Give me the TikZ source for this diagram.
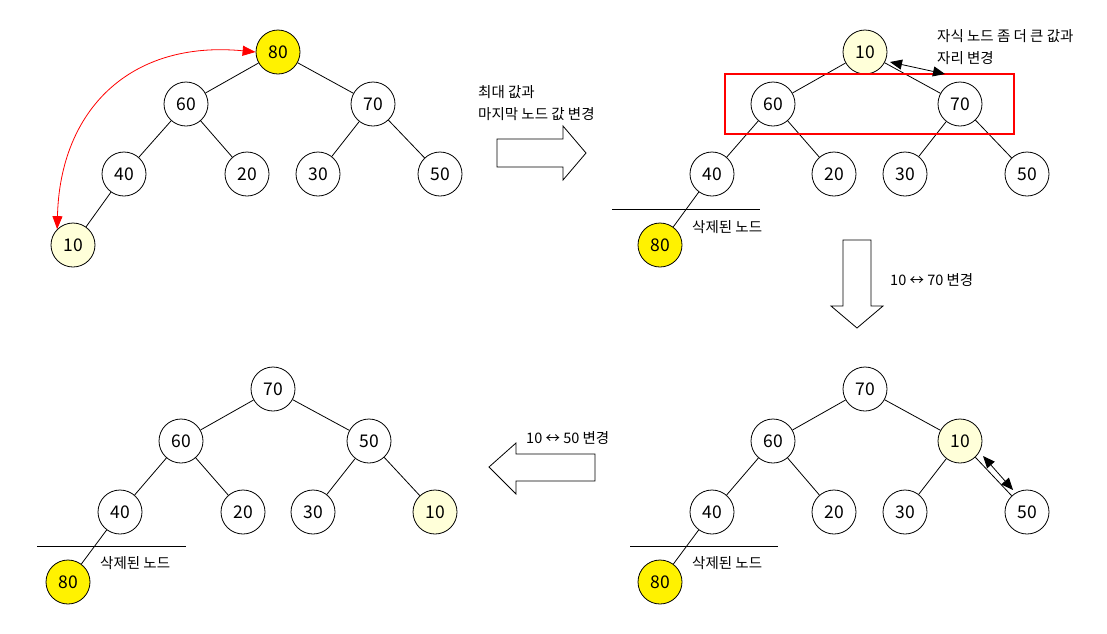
\documentclass[tikz,border=0pt]{standalone}
\usepackage{fontspec}
\setmainfont{Noto Sans CJK KR}
\usetikzlibrary{arrows.meta,shapes.arrows}
\definecolor{ly}{HTML}{FFFFD9}
\tikzset{
  hn/.style={circle,draw,line width=0.8pt,minimum size=44pt,inner sep=0pt,fill=white,font=\fontsize{17.5}{19}\selectfont},
  yel/.style={fill=yellow},
  lyel/.style={fill=ly},
  ed/.style={line width=0.8pt},
  lbl/.style={anchor=west,font=\fontsize{14.5}{17}\selectfont,inner sep=0pt},
  dbl/.style={line width=0.8pt,{Triangle[width=10pt,length=12pt]}-{Triangle[width=10pt,length=12pt]}},
  bigarrow/.style={draw,line width=0.8pt,fill=white}
}
\begin{document}
\begin{tikzpicture}[x={(1pt,0)},y={(0,-1pt)}]
\useasboundingbox (0,0) rectangle (1107,633);
% ---------- Panel 1
\node[hn,yel] (a80) at (278,52) {80};
\node[hn] (a60) at (186,104) {60};
\node[hn] (a70) at (373,104) {70};
\node[hn] (a40) at (124,174) {40};
\node[hn] (a20) at (247,174) {20};
\node[hn] (a30) at (318,174) {30};
\node[hn] (a50) at (440,174) {50};
\node[hn,lyel] (a10) at (73,245) {10};
\draw[ed] (a80)--(a60) (a80)--(a70) (a60)--(a40) (a60)--(a20) (a70)--(a30) (a70)--(a50) (a40)--(a10);
\draw[red,line width=0.8pt,{Triangle[width=10pt,length=13pt]}-{Triangle[width=10pt,length=13pt]}] (a10.north west) .. controls (60,110) and (130,40) .. (a80.west);
% ---------- Panel 2
\node[hn,lyel] (b10) at (865,52) {10};
\node[hn] (b60) at (773,104) {60};
\node[hn] (b70) at (960,104) {70};
\node[hn] (b40) at (712,174) {40};
\node[hn] (b20) at (834,174) {20};
\node[hn] (b30) at (905,174) {30};
\node[hn] (b50) at (1027,174) {50};
\node[hn,yel] (b80) at (660,245) {80};
\draw[ed] (b10)--(b60) (b10)--(b70) (b60)--(b40) (b60)--(b20) (b70)--(b30) (b70)--(b50) (b40)--(b80);
\draw[red,line width=2pt] (725,74) rectangle (1014,134);
\coordinate (b1s) at (612,209); \coordinate (b1e) at (760,209);
\draw[ed] (b1s)--(b1e);
\node[lbl] (bl) at (692,227) {삭제된 노드};
\coordinate (bd1) at (890,62); \coordinate (bd2) at (945,74);
\draw[dbl] (bd1)--(bd2);
\node[lbl] (bt1) at (937,36) {자식 노드 좀 더 큰 값과};
\node[lbl] (bt2) at (937,58) {자리 변경};
% ---------- Panel 3
\node[hn] (c70) at (865,389) {70};
\node[hn] (c60) at (773,441) {60};
\node[hn,lyel] (c10) at (960,441) {10};
\node[hn] (c40) at (712,512) {40};
\node[hn] (c20) at (834,512) {20};
\node[hn] (c30) at (905,512) {30};
\node[hn] (c50) at (1027,512) {50};
\node[hn,yel] (c80) at (660,582) {80};
\draw[ed] (c70)--(c60) (c70)--(c10) (c60)--(c40) (c60)--(c20) (c10)--(c30) (c10)--(c50) (c40)--(c80);
\coordinate (c1s) at (630,546); \coordinate (c1e) at (778,546);
\draw[ed] (c1s)--(c1e);
\node[lbl] (cl) at (692,563) {삭제된 노드};
\coordinate (cd1) at (983,456); \coordinate (cd2) at (1013,490);
\draw[dbl] (cd1)--(cd2);
% ---------- Panel 4
\node[hn] (d70) at (273,389) {70};
\node[hn] (d60) at (181,441) {60};
\node[hn] (d50) at (369,441) {50};
\node[hn] (d40) at (120,512) {40};
\node[hn] (d20) at (243,512) {20};
\node[hn] (d30) at (313,512) {30};
\node[hn,lyel] (d10) at (435,512) {10};
\node[hn,yel] (d80) at (68,582) {80};
\draw[ed] (d70)--(d60) (d70)--(d50) (d60)--(d40) (d60)--(d20) (d50)--(d30) (d50)--(d10) (d40)--(d80);
\coordinate (d1s) at (37,546); \coordinate (d1e) at (186,546);
\draw[ed] (d1s)--(d1e);
\node[lbl] (dl) at (100,563) {삭제된 노드};
% ---------- block arrows
\draw[bigarrow] (497,139) -- (563,139) -- (563,126) -- (586,153) -- (563,180) -- (563,167) -- (497,167) -- cycle;
\node[lbl] (t1a) at (478,92) {최대 값과};
\node[lbl] (t1b) at (478,114) {마지막 노드 값 변경};
\draw[bigarrow] (843,240) -- (871,240) -- (871,306) -- (883,306) -- (857,328) -- (831,306) -- (843,306) -- cycle;
\node[lbl] (t2) at (890,280) {10 ↔ 70 변경};
\draw[bigarrow] (595,454) -- (516,454) -- (516,443) -- (489,467) -- (516,494) -- (516,481) -- (595,481) -- cycle;
\node[lbl] (t3) at (526,438) {10 ↔ 50 변경};
\end{tikzpicture}
\end{document}
